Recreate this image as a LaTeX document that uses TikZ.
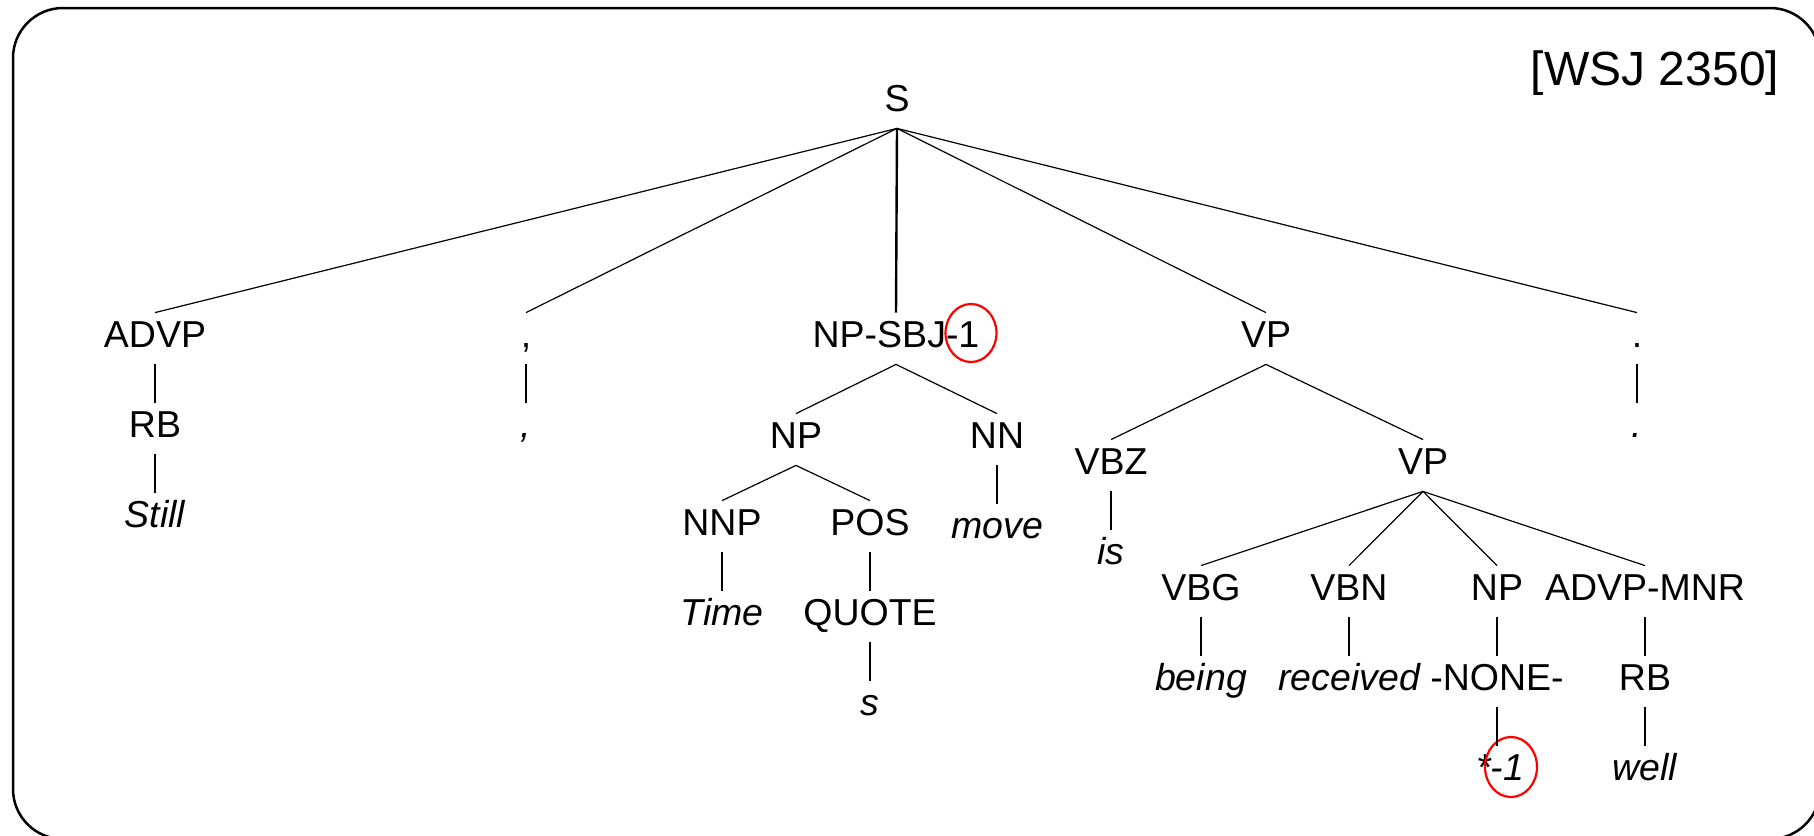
\documentclass[tikz,border=0pt]{standalone}
\usepackage{fontspec}
\setmainfont{Liberation Sans}
\usetikzlibrary{shapes.geometric}
\newcommand\treefont{\fontsize{18.75}{22}\selectfont}
\newcommand\tagfont{\fontsize{24}{28}\selectfont}
\begin{document}
\begin{tikzpicture}[x=0.5pt,y=-0.5pt,
  cat/.style={anchor=base, font=\treefont, inner xsep=0pt, inner ysep=3.5pt,
              text height=13.5pt, text depth=5pt},
  word/.style={cat, font=\treefont\itshape},
  branch/.style={line width=0.6pt},
  unary/.style={line width=1.2pt},
  ring/.style={draw=red, line width=1.1pt, ellipse, inner sep=0pt}]
\useasboundingbox (0,0) rectangle (1814,835);
% outer frame (its right and bottom sides lie past the page edge)
\draw[line width=1.25pt, rounded corners=25pt] (13,8) rectangle (1820,839);
% corpus reference
\node (ref) [anchor=base, font=\tagfont, inner sep=0pt] at (1655,85) {[WSJ 2350]};

% root and first level
\node (S)      [cat] at (897,111) {S};
\node (advp)   [cat] at (155,347) {ADVP};
\node (cm1)    [cat] at (526,347) {,};
\node (npsbj)  [cat] at (896,347) {NP-SBJ-1};
\node (vp1)    [cat] at (1266,347) {VP};
\node (pd1)    [cat] at (1637,347) {.};

% ADVP / punctuation
\node (rb1)    [cat]  at (155,437) {RB};
\node (still)  [word] at (155,527) {Still};
\node (cm2)    [word] at (526,437) {,};
\node (pd2)    [word] at (1637,437) {.};

% subject
\node (np1)    [cat]  at (796,448) {NP};
\node (nn)     [cat]  at (997,448) {NN};
\node (nnp)    [cat]  at (722,535) {NNP};
\node (pos)    [cat]  at (870,535) {POS};
\node (move)   [word] at (997,538) {move};
\node (time)   [word] at (722,625) {Time};
\node (quote)  [cat]  at (870,625) {QUOTE};
\node (s)      [word] at (870,715) {s};

% predicate
\node (vbz)    [cat]  at (1111,474) {VBZ};
\node (vp2)    [cat]  at (1423,474) {VP};
\node (is)     [word] at (1111,564) {is};
\node (vbg)    [cat]  at (1201,600) {VBG};
\node (vbn)    [cat]  at (1349,600) {VBN};
\node (np2)    [cat]  at (1497,600) {NP};
\node (advpm)  [cat]  at (1645,600) {ADVP-MNR};
\node (being)  [word] at (1201,690) {being};
\node (recv)   [word] at (1349,690) {received};
\node (none)   [cat]  at (1497,690) {-NONE-};
\node (rb2)    [cat]  at (1645,690) {RB};
\node (trace)  [word] at (1500,780) {*-1};
\node (well)   [word] at (1645,780) {well};

% coindexation marks
\node (ring1) [ring, minimum width=25.5pt, minimum height=29pt] at (971,333) {};
\node (ring2) [ring, minimum width=26pt, minimum height=30pt] at (1511,767) {};

% branches
\draw[branch] (S.south) -- (advp.north);
\draw[branch] (S.south) -- (cm1.north);
\draw[unary]  (S.south) -- (npsbj.north);
\draw[branch] (S.south) -- (vp1.north);
\draw[branch] (S.south) -- (pd1.north);

\draw[unary] (advp.south) -- (rb1.north);
\draw[unary] (rb1.south) -- (still.north);
\draw[unary] (cm1.south) -- (cm2.north);
\draw[unary] (pd1.south) -- (pd2.north);

\draw[branch] (npsbj.south) -- (np1.north);
\draw[branch] (npsbj.south) -- (nn.north);
\draw[branch] (np1.south) -- (nnp.north);
\draw[branch] (np1.south) -- (pos.north);
\draw[unary]  (nn.south) -- (move.north);
\draw[unary]  (nnp.south) -- (time.north);
\draw[unary]  (pos.south) -- (quote.north);
\draw[unary]  (quote.south) -- (s.north);

\draw[branch] (vp1.south) -- (vbz.north);
\draw[branch] (vp1.south) -- (vp2.north);
\draw[unary]  (vbz.south) -- (is.north);
\draw[branch] (vp2.south) -- (vbg.north);
\draw[branch] (vp2.south) -- (vbn.north);
\draw[branch] (vp2.south) -- (np2.north);
\draw[branch] (vp2.south) -- (advpm.north);
\draw[unary]  (vbg.south) -- (being.north);
\draw[unary]  (vbn.south) -- (recv.north);
\draw[unary]  (np2.south) -- (none.north);
\draw[unary]  (advpm.south) -- (rb2.north);
\draw[unary]  (none.south) -- (trace.north -| none.south);
\draw[unary]  (rb2.south) -- (well.north);
\end{tikzpicture}
\end{document}
